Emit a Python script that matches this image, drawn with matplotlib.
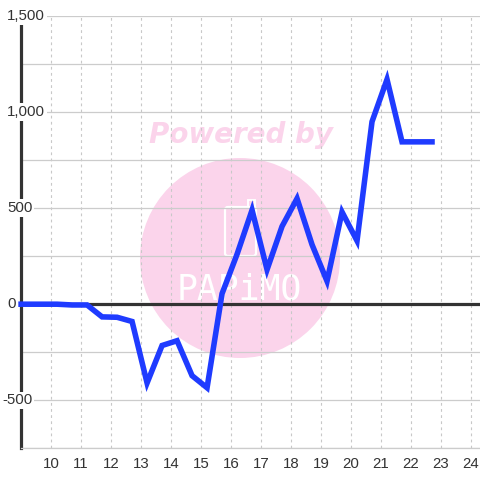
import matplotlib
matplotlib.use('Agg')
import matplotlib.pyplot as plt
from matplotlib.patches import Circle, FancyBboxPatch, Rectangle
import matplotlib.transforms as mtransforms

# series
xs = [9.0, 9.2, 9.7, 10.2, 10.7, 11.2, 11.7, 12.2, 12.7, 13.2, 13.7, 14.2, 14.7, 15.2,
      15.7, 16.2, 16.7, 17.2, 17.7, 18.2, 18.7, 19.2, 19.7, 20.2, 20.7, 21.2, 21.7, 22.2, 22.7]
ys = [0, 0, 0, 0, -4, -4, -66, -68, -90, -410, -215, -190, -372, -435,
      55, 260, 490, 180, 405, 550, 310, 120, 480, 330, 950, 1170, 845, 845, 845]
x_ticks = list(range(10, 25))
y_grid = [-750, -500, -250, 0, 250, 500, 750, 1000, 1250, 1500]
y_labels = [-500, 0, 500, 1000, 1500]

plt.rcParams['font.family'] = ['Liberation Sans', 'DejaVu Sans']

fig = plt.figure(figsize=(4.8, 4.8), dpi=100)
fig.patch.set_facecolor('white')
ax = fig.add_axes([20.5 / 480, (480 - 448.3) / 480, (480 - 20.5) / 480, (448.3 - 16) / 480])
ax.patch.set_alpha(0)
ax.set_xlim(8.98, 24.3)
ax.set_ylim(-750, 1500)

# grid
ax.set_yticks(y_grid)
ax.set_xticks(x_ticks)
ax.grid(axis='y', color='#cccccc', linewidth=0.9, linestyle='-')
ax.grid(axis='x', color='#c8c8c8', linewidth=0.8, linestyle=(0, (2.5, 3)))
ax.tick_params(axis='y', length=0, labelleft=False)
ax.tick_params(axis='x', length=0, pad=6, labelsize=10.8, labelcolor='#333333')

for s in ['top', 'right']:
    ax.spines[s].set_visible(False)
ax.spines['bottom'].set_color('#cccccc')
ax.spines['bottom'].set_linewidth(0.9)
ax.spines['left'].set_color('#333333')
ax.spines['left'].set_linewidth(2.3)

# watermark, under the grid
wm = fig.transFigure
pink = '#fbd4eb'
fig.add_artist(Circle((240 / 480, 1 - 258 / 480), 100 / 480, transform=wm,
                      facecolor=pink, edgecolor='none', zorder=-3))
fig.add_artist(FancyBboxPatch((225 / 480, 1 - 256 / 480), 31 / 480, 49 / 480,
                              boxstyle='round,pad=0,rounding_size=0.006', transform=wm,
                              facecolor='none', edgecolor='white', linewidth=1.6,
                              zorder=-2))
fig.add_artist(Rectangle((248 / 480, 1 - 207 / 480), 7 / 480, 7 / 480, transform=wm,
                         facecolor='none', edgecolor='white', linewidth=1.4, zorder=-2))
fig.text(239 / 480, 1 - 289 / 480, 'PAPiMO', color='white', fontsize=25,
         family='DejaVu Sans Mono', ha='center', va='center', zorder=-2)
fig.text(241 / 480, 1 - 135 / 480, 'Powered by', color=pink, fontsize=20,
         family='DejaVu Sans', fontweight='bold', style='italic',
         ha='center', va='center', zorder=-2)

# zero line and series
ax.axhline(0, color='#333333', linewidth=2.3, zorder=2)
ax.plot(xs, ys, color='#1f3bff', linewidth=4.0, solid_joinstyle='miter',
        solid_capstyle='projecting', clip_on=False, zorder=3)

# y labels with white boxes sitting over the axis
trans = mtransforms.blended_transform_factory(fig.transFigure, ax.transData)
for v in y_labels:
    left = 2 if v < 0 else 7
    ax.text(left / 480, v, f'{v:,}', transform=trans, ha='left', va='center',
            fontsize=10.8, color='#333333', zorder=4, clip_on=False,
            bbox=dict(facecolor='white', edgecolor='none', pad=1.2))

fig.savefig('out.png', dpi=100)
